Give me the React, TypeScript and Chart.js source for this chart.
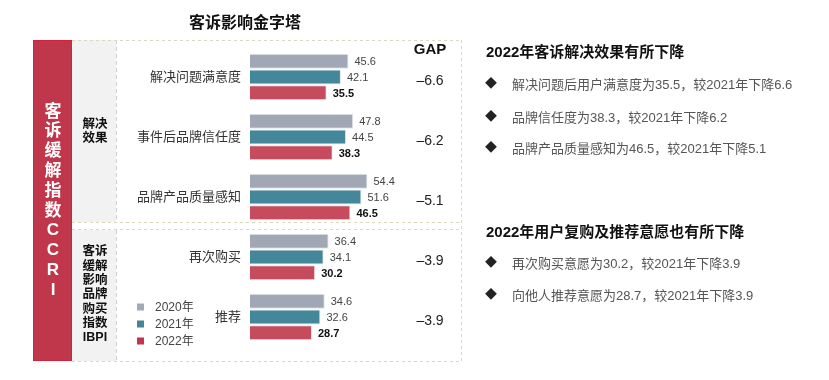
import React, { useEffect, useRef } from 'react';
import { Chart, registerables } from 'chart.js';

Chart.register(...registerables);

const categories = ['解决问题满意度', '事件后品牌信任度', '品牌产品质量感知', '再次购买', '推荐'];
const seriesNames = ['2020年', '2021年', '2022年'];
const values2020 = [45.6, 47.8, 54.4, 36.4, 34.6];
const values2021 = [42.1, 44.5, 51.6, 34.1, 32.6];
const values2022 = [35.5, 38.3, 46.5, 30.2, 28.7];
const gapValues = ['–6.6', '–6.2', '–5.1', '–3.9', '–3.9'];
const chartTitle = '客诉影响金字塔';
const gapTitle = 'GAP';
const sideLabel = ['客', '诉', '缓', '解', '指', '数', 'C', 'C', 'R', 'I'];
const section1Label = ['解决', '效果'];
const section2Label = ['客诉', '缓解', '影响', '品牌', '购买', '指数', 'IBPI'];
const rightTitle1 = '2022年客诉解决效果有所下降';
const rightBullets1 = [
  '解决问题后用户满意度为35.5，较2021年下降6.6',
  '品牌信任度为38.3，较2021年下降6.2',
  '品牌产品质量感知为46.5，较2021年下降5.1',
];
const rightTitle2 = '2022年用户复购及推荐意愿也有所下降';
const rightBullets2 = [
  '再次购买意愿为30.2，较2021年下降3.9',
  '向他人推荐意愿为28.7，较2021年下降3.9',
];

const COLORS = ['#a1a7b4', '#44869a', '#c54b5d'];
const LEGEND_COLORS = ['#a3a9b6', '#44859a', '#c0364b'];
const FONT = "'Liberation Sans', 'Noto Sans CJK SC', sans-serif";

const decoPlugin = {
  id: 'deco',
  beforeDraw(chart: any) {
    const ctx = chart.ctx;
    ctx.save();
    // red side panel
    ctx.fillStyle = '#c0364a';
    ctx.fillRect(33, 40, 39, 321);
    ctx.strokeStyle = '#d4223e';
    ctx.lineWidth = 1;
    ctx.strokeRect(33.5, 40.5, 38, 320);
    // gray panels
    ctx.fillStyle = '#f2f2f2';
    ctx.fillRect(72, 40, 44, 182);
    ctx.fillRect(72, 230, 44, 131);
    ctx.setLineDash([4, 3]);
    ctx.strokeStyle = '#cfcfcf';
    ctx.beginPath();
    ctx.moveTo(116.5, 40);
    ctx.lineTo(116.5, 222);
    ctx.moveTo(116.5, 230);
    ctx.lineTo(116.5, 361);
    ctx.stroke();
    // khaki dashed boxes
    ctx.strokeStyle = '#dcd8bc';
    ctx.setLineDash([3, 3]);
    ctx.beginPath();
    for (const y of [40.5, 222.5, 229.5, 361.5]) {
      ctx.moveTo(72, y);
      ctx.lineTo(461, y);
    }
    ctx.moveTo(461.5, 40);
    ctx.lineTo(461.5, 362);
    ctx.stroke();
    ctx.setLineDash([]);
    ctx.restore();
  },
  afterDatasetsDraw(chart: any) {
    const ctx = chart.ctx;
    const yScale = chart.scales.y;
    ctx.save();
    ctx.textBaseline = 'middle';
    // title
    ctx.fillStyle = '#111';
    ctx.font = `bold 16px ${FONT}`;
    ctx.textAlign = 'center';
    ctx.fillText(chartTitle, 245, 24);
    // side label
    ctx.fillStyle = '#ffffff';
    ctx.font = `bold 17px ${FONT}`;
    sideLabel.forEach((ch, i) => ctx.fillText(ch, 53, 112 + i * 19.8));
    // section labels
    ctx.fillStyle = '#111';
    ctx.font = `bold 12.5px ${FONT}`;
    section1Label.forEach((t, i) => ctx.fillText(t, 95, 125 + i * 14));
    section2Label.forEach((t, i) => ctx.fillText(t, 95, 252 + i * 14.3));
    // value labels
    ctx.textAlign = 'left';
    chart.data.datasets.forEach((ds: any, di: number) => {
      const meta = chart.getDatasetMeta(di);
      ctx.font = di === 2 ? `bold 11px ${FONT}` : `11px ${FONT}`;
      ctx.fillStyle = di === 2 ? '#111' : '#444';
      meta.data.forEach((el: any, i: number) => {
        ctx.fillText(String(ds.data[i]), el.x + 6, el.y + 1);
      });
    });
    // GAP
    ctx.textAlign = 'center';
    ctx.fillStyle = '#111';
    ctx.font = `bold 15px ${FONT}`;
    ctx.fillText(gapTitle, 430, 50);
    ctx.font = `14px ${FONT}`;
    ctx.fillStyle = '#222';
    gapValues.forEach((g, i) => {
      ctx.fillText(g, 430, yScale.getPixelForValue(i) + 4);
    });
    // legend
    ctx.textAlign = 'left';
    ctx.font = `12px ${FONT}`;
    seriesNames.forEach((n, i) => {
      const y = 307 + i * 17;
      ctx.fillStyle = LEGEND_COLORS[i];
      ctx.fillRect(137, y - 3.5, 7, 7);
      ctx.fillStyle = '#444';
      ctx.fillText(n, 155, y + 1);
    });
    // right text
    ctx.fillStyle = '#111';
    ctx.font = `bold 15px ${FONT}`;
    ctx.fillText(rightTitle1, 486, 53);
    ctx.fillText(rightTitle2, 486, 233);
    const bullets = (list: string[], ys: number[]) => {
      list.forEach((t, i) => {
        ctx.fillStyle = '#222';
        ctx.font = `12px ${FONT}`;
        ctx.fillText('◆', 485, ys[i]);
        ctx.fillStyle = '#555';
        ctx.font = `13px ${FONT}`;
        ctx.fillText(t, 512, ys[i]);
      });
    };
    bullets(rightBullets1, [85, 118, 149]);
    bullets(rightBullets2, [264, 296]);
    ctx.restore();
  },
};

export default function App() {
  const ref = useRef<HTMLCanvasElement>(null);
  useEffect(() => {
    if (!ref.current) return;
    const chart = new Chart(ref.current, {
      type: 'bar',
      data: {
        labels: categories,
        datasets: [values2020, values2021, values2022].map((d, i) => ({
          label: seriesNames[i],
          data: d,
          backgroundColor: COLORS[i],
          borderColor: '#e2e8ec',
          borderWidth: 1,
          barPercentage: 0.95,
          categoryPercentage: 0.785,
        })),
      },
      options: {
        indexAxis: 'y',
        responsive: false,
        animation: false,
        devicePixelRatio: 1,
        layout: { padding: { top: 47, bottom: 33, left: 0, right: 363 } },
        plugins: { legend: { display: false }, tooltip: { enabled: false } },
        scales: {
          x: { display: false, min: 0, max: 100 },
          y: {
            grid: { display: false, drawTicks: false },
            border: { display: false },
            ticks: { font: { size: 13, family: FONT }, color: '#333', padding: 9 },
            afterFit: (s: any) => {
              s.width = 250;
            },
          },
        },
      },
      plugins: [decoPlugin],
    });
    return () => chart.destroy();
  }, []);
  return (
    <div style={{ position: 'fixed', left: 0, top: 0, width: 829, height: 380, background: '#fff' }}>
      <canvas ref={ref} width={829} height={380} />
    </div>
  );
}
